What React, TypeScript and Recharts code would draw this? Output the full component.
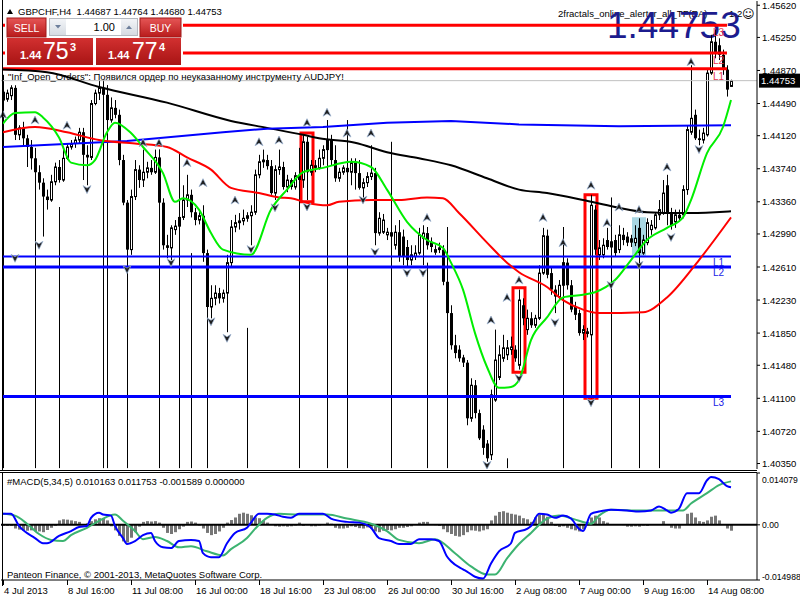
import React from "react";
import {
  ComposedChart,
  Bar,
  Line,
  XAxis,
  YAxis,
  ReferenceLine,
  ReferenceArea,
  ReferenceDot,
} from "recharts";

// GBPCHF H4 from 4 Jul 2013 00:00, one row per bar: [open, high, low, close]
const candles: number[][] = [
  [1.4453, 1.4470, 1.4442, 1.4462], [1.4454, 1.4465, 1.4451, 1.4461], [1.4458, 1.4470, 1.4453, 1.4467], [1.4467, 1.4470, 1.4407, 1.4413], [1.4413, 1.4424, 1.4407, 1.4421],
  [1.4421, 1.4428, 1.4401, 1.4409], [1.4409, 1.4413, 1.4376, 1.4399], [1.4399, 1.4407, 1.4373, 1.4386], [1.4386, 1.4398, 1.4353, 1.4370], [1.4370, 1.4378, 1.4350, 1.4358],
  [1.4358, 1.4363, 1.4296, 1.4342], [1.4342, 1.4350, 1.4327, 1.4338], [1.4338, 1.4367, 1.4336, 1.4359], [1.4359, 1.4381, 1.4355, 1.4376], [1.4376, 1.4384, 1.4358, 1.4361],
  [1.4361, 1.4396, 1.4359, 1.4386], [1.4386, 1.4403, 1.4384, 1.4399], [1.4399, 1.4407, 1.4396, 1.4403], [1.4403, 1.4411, 1.4398, 1.4407], [1.4407, 1.4421, 1.4403, 1.4416],
  [1.4416, 1.4421, 1.4361, 1.4390], [1.4390, 1.4401, 1.4355, 1.4387], [1.4387, 1.4453, 1.4384, 1.4449], [1.4449, 1.4465, 1.4447, 1.4461], [1.4461, 1.4476, 1.4453, 1.4467],
  [1.4467, 1.4476, 1.4456, 1.4459], [1.4459, 1.4470, 1.4424, 1.4430], [1.4430, 1.4456, 1.4427, 1.4444], [1.4444, 1.4453, 1.4432, 1.4436], [1.4436, 1.4442, 1.4378, 1.4384],
  [1.4384, 1.4390, 1.4332, 1.4335], [1.4335, 1.4338, 1.4267, 1.4281], [1.4281, 1.4350, 1.4275, 1.4342], [1.4342, 1.4384, 1.4338, 1.4373], [1.4373, 1.4378, 1.4352, 1.4361],
  [1.4361, 1.4396, 1.4353, 1.4370], [1.4370, 1.4382, 1.4363, 1.4375], [1.4375, 1.4384, 1.4367, 1.4370], [1.4370, 1.4396, 1.4368, 1.4387], [1.4387, 1.4396, 1.4327, 1.4335],
  [1.4335, 1.4340, 1.4281, 1.4286], [1.4286, 1.4298, 1.4271, 1.4283], [1.4283, 1.4309, 1.4269, 1.4306], [1.4304, 1.4315, 1.4298, 1.4308], [1.4308, 1.4332, 1.4304, 1.4318],
  [1.4318, 1.4355, 1.4315, 1.4338], [1.4338, 1.4367, 1.4330, 1.4344], [1.4344, 1.4350, 1.4318, 1.4324], [1.4324, 1.4329, 1.4309, 1.4315], [1.4315, 1.4324, 1.4310, 1.4320],
  [1.4320, 1.4332, 1.4267, 1.4277], [1.4277, 1.4281, 1.4206, 1.4215], [1.4215, 1.4240, 1.4202, 1.4225], [1.4225, 1.4240, 1.4217, 1.4231], [1.4231, 1.4237, 1.4219, 1.4225],
  [1.4225, 1.4235, 1.4220, 1.4231], [1.4231, 1.4275, 1.4186, 1.4266], [1.4266, 1.4315, 1.4260, 1.4307], [1.4307, 1.4321, 1.4301, 1.4312], [1.4312, 1.4323, 1.4304, 1.4314],
  [1.4314, 1.4327, 1.4309, 1.4317], [1.4317, 1.4324, 1.4313, 1.4320], [1.4320, 1.4332, 1.4286, 1.4324], [1.4324, 1.4373, 1.4321, 1.4367], [1.4367, 1.4390, 1.4363, 1.4382],
  [1.4382, 1.4396, 1.4375, 1.4384], [1.4384, 1.4390, 1.4373, 1.4377], [1.4377, 1.4384, 1.4344, 1.4346], [1.4346, 1.4378, 1.4338, 1.4373], [1.4373, 1.4396, 1.4367, 1.4376],
  [1.4376, 1.4382, 1.4350, 1.4353], [1.4353, 1.4367, 1.4347, 1.4361], [1.4361, 1.4363, 1.4350, 1.4353], [1.4353, 1.4370, 1.4350, 1.4366], [1.4366, 1.4373, 1.4355, 1.4361],
  [1.4361, 1.4413, 1.4352, 1.4405], [1.4405, 1.4411, 1.4338, 1.4370], [1.4370, 1.4384, 1.4366, 1.4378], [1.4378, 1.4384, 1.4370, 1.4375], [1.4375, 1.4396, 1.4373, 1.4386],
  [1.4386, 1.4401, 1.4378, 1.4396], [1.4396, 1.4430, 1.4393, 1.4407], [1.4407, 1.4413, 1.4378, 1.4384], [1.4384, 1.4401, 1.4359, 1.4363], [1.4363, 1.4375, 1.4359, 1.4370],
  [1.4370, 1.4378, 1.4367, 1.4375], [1.4375, 1.4407, 1.4367, 1.4370], [1.4370, 1.4386, 1.4355, 1.4381], [1.4381, 1.4386, 1.4350, 1.4369], [1.4369, 1.4384, 1.4350, 1.4352],
  [1.4352, 1.4363, 1.4341, 1.4358], [1.4358, 1.4370, 1.4353, 1.4365], [1.4365, 1.4401, 1.4361, 1.4369], [1.4369, 1.4375, 1.4286, 1.4300], [1.4300, 1.4324, 1.4297, 1.4317],
  [1.4301, 1.4322, 1.4299, 1.4315], [1.4298, 1.4306, 1.4292, 1.4301], [1.4301, 1.4309, 1.4286, 1.4296], [1.4286, 1.4309, 1.4281, 1.4301], [1.4301, 1.4315, 1.4267, 1.4273],
  [1.4296, 1.4304, 1.4263, 1.4273], [1.4284, 1.4292, 1.4262, 1.4269], [1.4269, 1.4286, 1.4263, 1.4275], [1.4273, 1.4286, 1.4269, 1.4277], [1.4277, 1.4306, 1.4275, 1.4298],
  [1.4294, 1.4309, 1.4263, 1.4300], [1.4300, 1.4307, 1.4281, 1.4286], [1.4290, 1.4295, 1.4278, 1.4284], [1.4278, 1.4286, 1.4275, 1.4281], [1.4281, 1.4289, 1.4277, 1.4283],
  [1.4281, 1.4286, 1.4240, 1.4244], [1.4244, 1.4248, 1.4202, 1.4208], [1.4208, 1.4217, 1.4166, 1.4171], [1.4171, 1.4183, 1.4156, 1.4162], [1.4166, 1.4171, 1.4152, 1.4156],
  [1.4157, 1.4160, 1.4146, 1.4151], [1.4151, 1.4154, 1.4079, 1.4087], [1.4087, 1.4133, 1.4083, 1.4125], [1.4125, 1.4131, 1.4087, 1.4093], [1.4093, 1.4097, 1.4062, 1.4064],
  [1.4074, 1.4079, 1.4045, 1.4053], [1.4058, 1.4062, 1.4037, 1.4041], [1.4045, 1.4120, 1.4039, 1.4114], [1.4108, 1.4189, 1.4106, 1.4154], [1.4134, 1.4171, 1.4131, 1.4160],
  [1.4156, 1.4183, 1.4152, 1.4168], [1.4160, 1.4177, 1.4154, 1.4168], [1.4166, 1.4181, 1.4160, 1.4169], [1.4166, 1.4171, 1.4152, 1.4156], [1.4148, 1.4235, 1.4143, 1.4223],
  [1.4217, 1.4225, 1.4194, 1.4202], [1.4189, 1.4212, 1.4183, 1.4202], [1.4202, 1.4209, 1.4191, 1.4194], [1.4194, 1.4206, 1.4191, 1.4202], [1.4202, 1.4263, 1.4200, 1.4254],
  [1.4254, 1.4306, 1.4252, 1.4297], [1.4297, 1.4304, 1.4248, 1.4252], [1.4254, 1.4260, 1.4229, 1.4235], [1.4235, 1.4240, 1.4208, 1.4227], [1.4227, 1.4246, 1.4223, 1.4240],
  [1.4240, 1.4283, 1.4237, 1.4266], [1.4266, 1.4271, 1.4235, 1.4240], [1.4240, 1.4246, 1.4209, 1.4212], [1.4215, 1.4221, 1.4200, 1.4206], [1.4208, 1.4212, 1.4182, 1.4185],
  [1.4185, 1.4194, 1.4177, 1.4189], [1.4187, 1.4191, 1.4180, 1.4184], [1.4183, 1.4344, 1.4110, 1.4332], [1.4327, 1.4332, 1.4275, 1.4281], [1.4275, 1.4292, 1.4269, 1.4283],
  [1.4275, 1.4294, 1.4271, 1.4286], [1.4292, 1.4306, 1.4281, 1.4284], [1.4284, 1.4298, 1.4275, 1.4290], [1.4292, 1.4298, 1.4273, 1.4277], [1.4281, 1.4309, 1.4277, 1.4298],
  [1.4298, 1.4306, 1.4286, 1.4292], [1.4296, 1.4301, 1.4285, 1.4289], [1.4294, 1.4298, 1.4284, 1.4289], [1.4289, 1.4309, 1.4285, 1.4294], [1.4306, 1.4317, 1.4267, 1.4277],
  [1.4277, 1.4298, 1.4275, 1.4292], [1.4289, 1.4317, 1.4286, 1.4312], [1.4304, 1.4315, 1.4298, 1.4309], [1.4306, 1.4323, 1.4304, 1.4321], [1.4321, 1.4338, 1.4315, 1.4327],
  [1.4323, 1.4361, 1.4321, 1.4346], [1.4355, 1.4367, 1.4309, 1.4323], [1.4323, 1.4329, 1.4304, 1.4309], [1.4313, 1.4327, 1.4306, 1.4321], [1.4321, 1.4327, 1.4313, 1.4317],
  [1.4321, 1.4355, 1.4317, 1.4350], [1.4350, 1.4424, 1.4344, 1.4419], [1.4416, 1.4493, 1.4413, 1.4432], [1.4436, 1.4442, 1.4407, 1.4409], [1.4409, 1.4419, 1.4401, 1.4407],
  [1.4407, 1.4421, 1.4403, 1.4415], [1.4413, 1.4488, 1.4411, 1.4484], [1.4484, 1.4528, 1.4482, 1.4520], [1.4520, 1.4534, 1.4501, 1.4507], [1.4516, 1.4524, 1.4499, 1.4505],
  [1.4505, 1.4511, 1.4482, 1.4488], [1.4488, 1.4493, 1.4457, 1.4465], [1.44687, 1.44764, 1.4468, 1.44753],
];

// empty slots to the right of the last bar
const SLOTS = 189;

const dateTicks = [0, 16, 32, 48, 64, 80, 96, 112, 128, 144, 160, 176];
const dateLabels = [
  "4 Jul 2013", "8 Jul 16:00", "11 Jul 08:00", "16 Jul 00:00", "18 Jul 16:00", "23 Jul 08:00",
  "26 Jul 00:00", "30 Jul 16:00", "2 Aug 08:00", "7 Aug 00:00", "9 Aug 16:00", "14 Aug 08:00",
];

const priceTicks = [
  1.4562, 1.4525, 1.4487, 1.4449, 1.4412, 1.4374, 1.4336, 1.4299, 1.4261, 1.4223, 1.4185, 1.4148, 1.411, 1.4072, 1.4035,
];
const macdTicks = [0.014079, 0, -0.014988];

// moving averages read at some bars: [bar, price]
const maBlack = [[0, 1.4488], [11, 1.4485], [24, 1.4468], [41, 1.445], [57, 1.4429], [66, 1.4421], [75, 1.4413], [79, 1.4409], [88, 1.4404], [96, 1.4393], [104, 1.4386], [112, 1.4378], [121, 1.4363], [129, 1.435], [136, 1.4346], [145, 1.4338], [153, 1.433], [161, 1.4324], [170, 1.4323], [178, 1.4324], [182, 1.4325]];
const maBlue = [[0, 1.4399], [31, 1.4406], [55, 1.4416], [66, 1.442], [80, 1.4422], [96, 1.4427], [112, 1.4429], [129, 1.4425], [154, 1.4423], [182, 1.4424]];
const maRed = [[0, 1.4416], [8, 1.4422], [16, 1.4416], [24, 1.4407], [33, 1.4403], [41, 1.4399], [46, 1.4387], [52, 1.4373], [57, 1.4352], [64, 1.4346], [69, 1.4341], [72, 1.434], [76, 1.4335], [81, 1.4332], [84, 1.4336], [92, 1.4338], [99, 1.4338], [106, 1.4341], [110, 1.434], [114, 1.4323], [121, 1.4289], [126, 1.4266], [129, 1.4255], [136, 1.4238], [140, 1.4223], [145, 1.4212], [149, 1.4208], [160, 1.4209], [166, 1.4226], [174, 1.4269], [182, 1.4318]];
const maGreen = [[0, 1.4426], [3, 1.4438], [8, 1.4439], [10, 1.4433], [14, 1.441], [17, 1.4381], [21, 1.4378], [23, 1.4384], [26, 1.4416], [28, 1.4427], [32, 1.4415], [35, 1.4399], [40, 1.4369], [43, 1.4336], [45, 1.434], [49, 1.4327], [52, 1.43], [55, 1.4281], [62, 1.4275], [67, 1.4327], [71, 1.435], [75, 1.437], [80, 1.4375], [87, 1.4382], [92, 1.4376], [96, 1.435], [101, 1.4313], [106, 1.4292], [110, 1.4283], [112, 1.4266], [115, 1.4235], [118, 1.4185], [121, 1.4146], [124, 1.4122], [127, 1.4123], [129, 1.4131], [132, 1.4177], [136, 1.4203], [140, 1.4226], [145, 1.4229], [148, 1.4232], [153, 1.4246], [157, 1.4269], [161, 1.4292], [166, 1.4306], [170, 1.4318], [172, 1.4338], [176, 1.4392], [180, 1.4422], [182, 1.4453]];

// MACD(5,34,5)
const macdMain = [[0, 0.003], [2, 0.003], [4, -0.0003], [8, -0.0036], [10, -0.005], [11, -0.005], [14, -0.003], [17, -0.0017], [19, -0.0006], [21, -0.0003], [22, 0.0019], [24, 0.0033], [25, 0.0028], [27, 0.0025], [28, -0.0003], [30, -0.0036], [31, -0.0052], [33, -0.0044], [35, -0.0028], [37, -0.0022], [38, -0.0044], [40, -0.0061], [42, -0.0063], [44, -0.0044], [47, -0.0041], [49, -0.0044], [50, -0.0077], [52, -0.0088], [54, -0.0088], [56, -0.005], [58, -0.0022], [61, -0.0008], [62, 0.0006], [64, 0.003], [66, 0.003], [68, 0.0028], [70, 0.0022], [72, 0.0019], [74, 0.003], [77, 0.003], [80, 0.003], [82, 0.0017], [86, 0.0008], [89, 0.0006], [92, -0.0008], [94, -0.0036], [97, -0.0044], [99, -0.0052], [102, -0.0052], [104, -0.0039], [107, -0.0039], [109, -0.0044], [111, -0.0086], [112, -0.0099], [115, -0.0121], [116, -0.0127], [118, -0.0141], [120, -0.0146], [122, -0.0105], [124, -0.0072], [127, -0.005], [128, -0.0022], [131, -0.0011], [132, -0.0003], [134, 0.003], [136, 0.0028], [138, 0.0019], [140, 0.0025], [142, 0.0017], [144, -0.0011], [145, -0.0017], [147, 0.003], [149, 0.0036], [152, 0.0041], [156, 0.0039], [159, 0.0036], [162, 0.0039], [164, 0.005], [166, 0.0039], [167, 0.0033], [169, 0.0044], [171, 0.0086], [174, 0.0086], [176, 0.0121], [177, 0.013], [179, 0.0124], [181, 0.0105], [182, 0.0102]];
const macdSignal = [[0, 0.003], [3, 0.0025], [6, 0.0003], [9, -0.0025], [12, -0.0041], [15, -0.0044], [17, -0.0028], [21, -0.0008], [24, 0.0011], [28, 0.0028], [30, 0.0011], [33, -0.0017], [35, -0.0039], [38, -0.0033], [41, -0.0044], [44, -0.0061], [47, -0.0058], [51, -0.0072], [55, -0.0083], [57, -0.0066], [61, -0.0036], [63, -0.0011], [66, 0.0019], [69, 0.003], [74, 0.0028], [81, 0.0028], [86, 0.0017], [92, 0.0003], [96, -0.0017], [99, -0.0041], [104, -0.005], [108, -0.0039], [113, -0.0077], [117, -0.0113], [121, -0.0135], [123, -0.0135], [126, -0.0091], [129, -0.0052], [132, -0.0022], [136, 0.0017], [139, 0.0025], [144, 0.0011], [147, 0.0003], [149, 0.0025], [152, 0.0041], [157, 0.0039], [164, 0.0039], [170, 0.0039], [172, 0.0058], [176, 0.0086], [179, 0.0108], [182, 0.0118]];
const macdHist = [
  -0.0003, -0.0003, -0.0003, -0.001, -0.0013, -0.0015, -0.0016, -0.0015, -0.0017, -0.0018,
  -0.002, -0.0014, -0.0008, -0.0003, 0.0012, 0.0015, 0.0014, 0.0012, 0.001, 0.0008,
  0.0002, 0.0004, 0.001, 0.0015, 0.0018, 0.0018, 0.0012, -0.0004, -0.0015, -0.003,
  -0.0045, -0.0048, -0.0035, -0.002, -0.0005, 0.0008, 0.001, 0.0009, 0.001, 0.0006,
  -0.0008, -0.0022, -0.0025, -0.002, -0.0012, -0.0005, 0.0008, 0.0009, 0.0006, -0.0002,
  -0.001, -0.0022, -0.0028, -0.0025, -0.0018, -0.0008, 0.0006, 0.0013, 0.002, 0.003,
  0.0033, 0.003, 0.0026, 0.002, 0.0018, 0.0012, 0.0006, 0.0002, -0.0004, -0.0005,
  -0.0004, -0.0005, -0.0004, -0.0002, 0.0006, -0.0003, -0.0001, -0.0004, -0.0004, -0.0002,
  0, 0.0006, 0.0003, -0.0008, -0.001, -0.001, -0.0008, -0.0004, -0.0006, -0.0009,
  -0.001, -0.0007, -0.001, -0.0018, -0.002, -0.0016, -0.0014, -0.0015, -0.0012, -0.0008,
  -0.0008, -0.0006, -0.0004, 0, 0.0006, 0.0008, 0.0008, 0, -0.0001, -0.0003,
  -0.0012, -0.002, -0.0025, -0.003, -0.0032, -0.0028, -0.002, -0.0015, -0.0016, -0.0018,
  -0.0015, -0.0012, 0.0012, 0.0025, 0.0035, 0.0037, 0.0033, 0.003, 0.0028, 0.0025,
  0.0018, 0.0015, 0.0008, 0.002, 0.0028, 0.003, 0.0022, 0.0008, -0.0003, -0.0006,
  -0.0004, -0.0008, -0.0012, -0.0015, -0.0018, -0.0012, 0.0008, 0.002, 0.0025, 0.002,
  0.001, 0.0006, 0.0002, 0, 0, -0.0001, -0.0005, -0.0005, -0.0004, -0.0005,
  -0.0002, -0.0003, 0, 0, 0.0001, 0.001, 0, -0.0008, -0.001, -0.001,
  0, 0.003, 0.0033, 0.002, 0.001, 0.0008, 0.0012, 0.0022, 0.0025, 0.0012,
  0.0001, -0.001, -0.0016,
];

// fractal marks and their stems: [bar, price]
const fractalUp = [[0, 1.4436], [8, 1.443], [16, 1.4424], [35, 1.4404], [39, 1.4404], [46, 1.4381], [50, 1.4358], [58, 1.4338], [64, 1.4405], [69, 1.4407], [76, 1.4427], [81, 1.4439], [86, 1.4415], [92, 1.4415], [106, 1.4318], [122, 1.42], [126, 1.4226], [129, 1.4246], [135, 1.4318], [140, 1.4289], [147, 1.4355], [151, 1.4312], [154, 1.433], [159, 1.4327], [166, 1.4376], [172, 1.4497]];
const fractalDown = [[3, 1.4271], [9, 1.4286], [21, 1.435], [31, 1.4258], [42, 1.4266], [52, 1.4198], [56, 1.4179], [62, 1.4281], [68, 1.4329], [76, 1.433], [90, 1.4338], [93, 1.4278], [101, 1.4254], [105, 1.4254], [121, 1.4033], [129, 1.4133], [138, 1.4197], [147, 1.4105], [152, 1.424], [159, 1.4263], [167, 1.4295], [174, 1.4396]];
const stems = [[0, 1.4482], [8, 1.438], [14, 1.433], [25, 1.447], [26, 1.447], [31, 1.429], [39, 1.4396], [44, 1.4392], [47, 1.4277], [51, 1.4277], [61, 1.4191], [74, 1.4398], [81, 1.443], [86, 1.443], [97, 1.4405], [106, 1.4266], [111, 1.4307], [126, 1.4041], [140, 1.4307], [152, 1.4341], [159, 1.4277], [164, 1.4275]];

// horizontal levels
const redLevels = [1.4539, 1.4507, 1.4489];
const redNames = ["L3", "L2", "L1"];
const blueLevels = [1.4273, 1.4261, 1.4112];
const blueNames = ["L1", "L2", "L3"];
// highlighted bars: [firstBar, lastBar, top, bottom]
const redBoxes = [[75, 77, 1.4415, 1.4336], [128, 130, 1.4237, 1.414], [146, 148, 1.4344, 1.411]];
const blueBox = [158, 160, 1.4317, 1.4275];

const lastClose = 1.44753;
const PRICE_MIN = 1.40287;
const PRICE_MAX = 1.45669;
const FONT = "'Liberation Sans', Arial, sans-serif";

const toMap = (pts: number[][]) => new Map(pts.map(([b, v]) => [b, v]));
const mBlack = toMap(maBlack), mBlue = toMap(maBlue), mRed = toMap(maRed), mGreen = toMap(maGreen);
const mMacd = toMap(macdMain), mSig = toMap(macdSignal);
const mUp = toMap(fractalUp), mDown = toMap(fractalDown);

const rows = Array.from({ length: SLOTS }, (_, i) => {
  const k = candles[i];
  return {
    i,
    o: k ? k[0] : null,
    h: k ? k[1] : null,
    l: k ? k[2] : null,
    c: k ? k[3] : null,
    range: k ? [k[2], k[1]] : null,
    black: mBlack.get(i) ?? null,
    blue: mBlue.get(i) ?? null,
    red: mRed.get(i) ?? null,
    green: mGreen.get(i) ?? null,
    up: mUp.get(i) ?? null,
    down: mDown.get(i) ?? null,
    hist: i < macdHist.length ? macdHist[i] : null,
    macd: mMacd.get(i) ?? null,
    sig: mSig.get(i) ?? null,
  };
});

const Candle = (props: any) => {
  const { x, y, width, height, payload } = props;
  if (!payload || payload.o == null || !isFinite(y) || !isFinite(height)) return <g />;
  const top = Math.min(y, y + height);
  const span = Math.abs(height);
  const { o, h, l, c } = payload;
  const at = (v: number) => top + (h === l ? 0 : ((h - v) / (h - l)) * span);
  const cx = Math.floor(x + width / 2) + 0.5;
  const bTop = at(Math.max(o, c));
  const bH = Math.max(at(Math.min(o, c)) - bTop, 1);
  return (
    <g>
      <line x1={cx} x2={cx} y1={top} y2={top + span} stroke="#000" strokeWidth={1} />
      {c >= o ? (
        <rect x={cx - 1} y={bTop} width={2} height={bH} fill="#fff" stroke="#000" strokeWidth={1} />
      ) : (
        <rect x={cx - 1.5} y={bTop} width={3} height={bH} fill="#000" />
      )}
    </g>
  );
};

const upMark = (p: any) => {
  if (p.value == null || p.cy == null || !isFinite(p.cy)) return <g />;
  const { cx, cy } = p;
  return (
    <path
      d={`M${cx} ${cy - 4}L${cx + 4} ${cy + 4}L${cx} ${cy + 1.5}L${cx - 4} ${cy + 4}Z`}
      fill="#1e1e1e"
      stroke="#9fb8d8"
      strokeWidth={0.7}
    />
  );
};

const downMark = (p: any) => {
  if (p.value == null || p.cy == null || !isFinite(p.cy)) return <g />;
  const { cx, cy } = p;
  return (
    <path
      d={`M${cx} ${cy + 4}L${cx + 4} ${cy - 4}L${cx} ${cy - 1.5}L${cx - 4} ${cy - 4}Z`}
      fill="#1e1e1e"
      stroke="#9fb8d8"
      strokeWidth={0.7}
    />
  );
};

// keeps the thin vertical stems on whole pixels
const crispStem = (p: any) => {
  const x = Math.floor(p.x1) + 0.5;
  return <line x1={x} x2={x} y1={p.y1} y2={p.y2} stroke="#000" strokeWidth={1} />;
};

const PriceTick = (p: any) => (
  <text x={p.x} y={p.y + 3.5} fontSize={9.5} fontFamily={FONT} fill="#000">
    {Number(p.payload.value).toFixed(5)}
  </text>
);

const MacdTick = (p: any) => {
  const v = Number(p.payload.value);
  const dy = v > 0 ? 6 : v < 0 ? -4 : 0;
  return (
    <text x={p.x} y={p.y + dy + 3.5} fontSize={8.6} fontFamily={FONT} fill="#000">
      {v === 0 ? "0.00" : v.toFixed(6)}
    </text>
  );
};

const DateTick = (p: any) => {
  const k = dateTicks.indexOf(Number(p.payload.value));
  if (k < 0) return <g />;
  const x = Math.floor(p.x) + 0.5;
  return (
    <g>
      <line x1={x} x2={x} y1={p.y} y2={p.y + 5} stroke="#000" />
      <text x={p.x + 1} y={p.y + 14} fontSize={9.5} fontFamily={FONT} fill="#000">
        {dateLabels[k]}
      </text>
    </g>
  );
};

const tag = (text: string, color: string, dy: number) => (p: any) => {
  const vb = p.viewBox;
  if (!vb) return <g />;
  return (
    <text x={vb.x - 1} y={vb.y + dy} fill={color} fontSize={10} fontFamily={FONT}>
      {text}
    </text>
  );
};

const priceBox = (p: any) => {
  const vb = p.viewBox;
  if (!vb) return <g />;
  const x = vb.x + vb.width + 2;
  return (
    <g>
      <rect x={x} y={vb.y - 7} width={41} height={14} fill="#000" />
      <text x={x + 2} y={vb.y + 3.5} fill="#fff" fontSize={9.5} fontFamily={FONT}>
        {lastClose.toFixed(5)}
      </text>
    </g>
  );
};

// big bid price and expert name sit under the chart, as in the terminal
const Underlay = () => (
  <svg width={800} height={600} style={{ position: "absolute", left: 0, top: 0 }}>
    <text x={558} y={17} fontSize={9.5} fontFamily={FONT} fill="#000">2fractals_online_alerter_all_TF(EA)</text>
    <text x={729} y={17} fontSize={9.5} fontFamily={FONT} fill="#000">1.2</text>
    <text x={742} y={18} fontSize={12} fontFamily="'DejaVu Sans', sans-serif" fill="#000">☺</text>
    <text x={607} y={38} fontSize={37} fontFamily={FONT} fill="#1c1c8e">1.44753</text>
  </svg>
);

const Overlay = () => (
  <svg width={800} height={600} style={{ position: "absolute", left: 0, top: 0, pointerEvents: "none" }}>
    <defs>
      <linearGradient id="btn" x1="0" y1="0" x2="0" y2="1">
        <stop offset="0" stopColor="#e65656" />
        <stop offset="1" stopColor="#b81b1b" />
      </linearGradient>
      <linearGradient id="quote" x1="0" y1="0" x2="0" y2="1">
        <stop offset="0" stopColor="#d23030" />
        <stop offset="1" stopColor="#a81414" />
      </linearGradient>
      <linearGradient id="spin" x1="0" y1="0" x2="0" y2="1">
        <stop offset="0" stopColor="#f2f4f7" />
        <stop offset="1" stopColor="#d6dbe2" />
      </linearGradient>
    </defs>

    {/* panel frames */}
    <line x1={2.5} x2={2.5} y1={0} y2={470} stroke="#000" />
    <line x1={2.5} x2={2.5} y1={472} y2={586} stroke="#000" />
    <line x1={0} x2={757} y1={470.5} y2={470.5} stroke="#000" />
    <line x1={0} x2={757} y1={472.5} y2={472.5} stroke="#000" />

    {/* header */}
    <polygon points="7,14 10,9 13,14" fill="#000" />
    <text x={18} y={15} fontSize={9.5} fontFamily={FONT} fill="#000" style={{ whiteSpace: "pre" }}>
      GBPCHF,H4  1.44687 1.44764 1.44680 1.44753
    </text>

    {/* one click trading panel */}
    <rect x={5} y={16} width={178} height={51} fill="#fff" />
    <rect x={7} y={18} width={39} height={19} fill="url(#btn)" stroke="#a01818" />
    <text x={26.5} y={32} textAnchor="middle" fontSize={10.5} fontFamily={FONT} fill="#fff">SELL</text>
    <rect x={49.5} y={18.5} width={88} height={17} fill="#fff" stroke="#b4b9c0" />
    <rect x={50} y={19} width={16} height={16} fill="url(#spin)" />
    <polygon points="55,25 61,25 58,28.5" fill="#6d7f9c" />
    <rect x={121} y={19} width={16} height={16} fill="url(#spin)" />
    <polygon points="126,29 132,29 129,25.5" fill="#6d7f9c" />
    <text x={115} y={31} textAnchor="end" fontSize={11} fontFamily={FONT} fill="#000">1.00</text>
    <rect x={140} y={18} width={41} height={19} fill="url(#btn)" stroke="#a01818" />
    <text x={160.5} y={32} textAnchor="middle" fontSize={10.5} fontFamily={FONT} fill="#fff">BUY</text>
    <rect x={7} y={38} width={86} height={27} fill="url(#quote)" />
    <rect x={96} y={38} width={85} height={27} fill="url(#quote)" />
    <text x={20} y={59} fontSize={11} fontWeight="bold" fontFamily={FONT} fill="#fff">1.44</text>
    <text x={43} y={59} fontSize={23} fontFamily={FONT} fill="#fff">75</text>
    <text x={70} y={51} fontSize={11} fontWeight="bold" fontFamily={FONT} fill="#fff">3</text>
    <text x={108} y={59} fontSize={11} fontWeight="bold" fontFamily={FONT} fill="#fff">1.44</text>
    <text x={132} y={59} fontSize={23} fontFamily={FONT} fill="#fff">77</text>
    <text x={159} y={51} fontSize={11} fontWeight="bold" fontFamily={FONT} fill="#fff">4</text>

    <text x={8} y={80} fontSize={9.5} fontFamily={FONT} fill="#000">
      "Inf_Open_Orders": Появился ордер по неуказанному инструменту AUDJPY!
    </text>

    {/* indicator window texts */}
    <text x={7} y={485} fontSize={9.5} fontFamily={FONT} fill="#000">
      #MACD(5,34,5) 0.010163 0.011753 -0.001589 0.000000
    </text>
    <text x={7} y={578} fontSize={9.5} fontFamily={FONT} fill="#000">
      Panteon Finance, © 2001-2013, MetaQuotes Software Corp.
    </text>
  </svg>
);

const App: React.FC = () => {
  return (
    <div style={{ position: "absolute", left: 0, top: 0, width: 800, height: 600, background: "#fff", overflow: "hidden" }}>
      <Underlay />
      <div style={{ position: "absolute", left: 0, top: 0 }}>
        <ComposedChart width={800} height={471} data={rows} margin={{ top: 1, right: 0, bottom: 2, left: 1 }}>
          <XAxis dataKey="i" hide />
          <YAxis
            orientation="right"
            type="number"
            width={43}
            domain={[PRICE_MIN, PRICE_MAX]}
            allowDataOverflow
            ticks={priceTicks}
            interval={0}
            tickSize={3}
            tickMargin={2}
            axisLine={{ stroke: "#000" }}
            tickLine={{ stroke: "#000" }}
            tick={PriceTick}
          />
          <ReferenceArea x1={blueBox[0]} x2={blueBox[1]} y1={blueBox[2]} y2={blueBox[3]} fill="#a8d6e2" fillOpacity={1} stroke="#a8d6e2" strokeWidth={2} />
          {redBoxes.map((b, n) => (
            <ReferenceArea key={"box" + n} x1={b[0]} x2={b[1]} y1={b[2]} y2={b[3]} fill="none" fillOpacity={0} stroke="#ff0000" strokeWidth={3} />
          ))}
          {stems.map(([b, v], n) => (
            <ReferenceLine key={"st" + n} segment={[{ x: b, y: v }, { x: b, y: PRICE_MIN + 0.0001 }]} stroke="#000" strokeWidth={1} shape={crispStem} />
          ))}
          <ReferenceLine y={lastClose} stroke="#c0c0c0" strokeWidth={1} label={priceBox} />
          <Bar dataKey="range" barSize={3} shape={Candle} isAnimationActive={false} />
          {redLevels.map((v, n) => (
            <ReferenceLine key={"rl" + n} segment={[{ x: 0, y: v }, { x: 181, y: v }]} stroke="#ff0000" strokeWidth={3} />
          ))}
          {blueLevels.map((v, n) => (
            <ReferenceLine key={"bl" + n} segment={[{ x: 0, y: v }, { x: 182, y: v }]} stroke="#0000ff" strokeWidth={n === 0 ? 2 : 3} />
          ))}
          <Line dataKey="black" type="monotone" stroke="#000" strokeWidth={2} dot={false} connectNulls isAnimationActive={false} />
          <Line dataKey="blue" type="linear" stroke="#0000ff" strokeWidth={2} dot={false} connectNulls isAnimationActive={false} />
          <Line dataKey="red" type="monotone" stroke="#ff0000" strokeWidth={2} dot={false} connectNulls isAnimationActive={false} />
          <Line dataKey="green" type="monotone" stroke="#00ee00" strokeWidth={2} dot={false} connectNulls isAnimationActive={false} />
          <Line dataKey="up" stroke="none" dot={upMark} activeDot={false} isAnimationActive={false} legendType="none" />
          <Line dataKey="down" stroke="none" dot={downMark} activeDot={false} isAnimationActive={false} legendType="none" />
          {redLevels.map((v, n) => (
            <ReferenceDot key={"rt" + n} x={178} y={v} r={1} fill="none" stroke="none" label={tag(redNames[n], "#e8364f", 12)} />
          ))}
          {blueLevels.map((v, n) => (
            <ReferenceDot key={"bt" + n} x={178} y={v} r={1} fill="none" stroke="none" label={tag(blueNames[n], "#1a1ae6", 10)} />
          ))}
        </ComposedChart>
      </div>
      <div style={{ position: "absolute", left: 0, top: 472 }}>
        <ComposedChart width={800} height={128} data={rows} margin={{ top: 1, right: 0, bottom: 0, left: 1 }}>
          <XAxis
            dataKey="i"
            height={20}
            interval={0}
            tickSize={0}
            tickMargin={0}
            tickLine={false}
            axisLine={{ stroke: "#000" }}
            tick={DateTick}
          />
          <YAxis
            orientation="right"
            type="number"
            width={43}
            domain={[-0.014988, 0.014079]}
            allowDataOverflow
            ticks={macdTicks}
            interval={0}
            tickSize={3}
            tickMargin={2}
            axisLine={{ stroke: "#000" }}
            tickLine={{ stroke: "#000" }}
            tick={MacdTick}
          />
          <Bar dataKey="hist" barSize={3} fill="#767676" isAnimationActive={false} />
          <ReferenceLine y={0} stroke="#000" strokeWidth={2} />
          <Line dataKey="sig" type="monotone" stroke="#3cb371" strokeWidth={2} dot={false} connectNulls isAnimationActive={false} />
          <Line dataKey="macd" type="monotone" stroke="#0000ff" strokeWidth={2} dot={false} connectNulls isAnimationActive={false} />
        </ComposedChart>
      </div>
      <Overlay />
    </div>
  );
};

export default App;
